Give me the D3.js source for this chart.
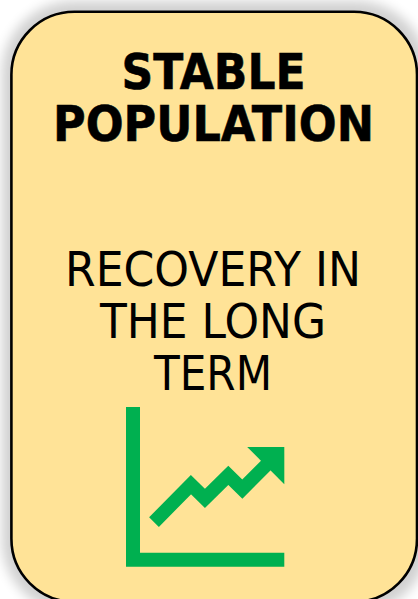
<!DOCTYPE html>
<html>
<head>
<meta charset="utf-8">
<script src="https://cdn.jsdelivr.net/npm/d3@7"></script>
<style>
  html, body { margin: 0; padding: 0; background: #fff; overflow: hidden; }
  svg { display: block; }
  text { font-family: "DejaVu Sans", sans-serif; fill: #000; text-anchor: middle; }
</style>
</head>
<body>
<div id="chart"></div>
<script>
// Card text
var TITLE_LINES = ["STABLE", "POPULATION"];
var BODY_LINES = ["RECOVERY IN", "THE LONG", "TERM"];

// Trend line in the icon, on a 0-100 scale on both axes
var TREND_X = [9.7, 35.3, 45, 61.2, 70.9, 93.6];
var TREND_Y = [21, 46.7, 37.3, 53.1, 43.7, 66.2];
var ARROW_X = [74.3, 100, 100];
var ARROW_Y = [72.5, 72.5, 47];

var WIDTH = 418, HEIGHT = 599;
var CARD_FILL = "#ffe397", ICON_GREEN = "#00b050";

var svg = d3.select("#chart").append("svg")
    .attr("width", WIDTH)
    .attr("height", HEIGHT);

var defs = svg.append("defs");
defs.append("filter")
    .attr("id", "card-shadow")
    .attr("filterUnits", "userSpaceOnUse")
    .attr("x", -60).attr("y", -60)
    .attr("width", 540).attr("height", 720)
    .append("feGaussianBlur")
    .attr("stdDeviation", 6);

// Shadow, then the card
svg.append("rect")
    .attr("x", 2).attr("y", 1)
    .attr("width", 426).attr("height", 612)
    .attr("rx", 72).attr("ry", 72)
    .attr("fill", "#000")
    .attr("opacity", 0.18)
    .attr("filter", "url(#card-shadow)");

svg.append("rect")
    .attr("x", 11.4).attr("y", 11.8)
    .attr("width", 405.6).attr("height", 590)
    .attr("rx", 63).attr("ry", 63)
    .attr("fill", CARD_FILL)
    .attr("stroke", "#000")
    .attr("stroke-width", 2.6);

// Title
var TITLE_WIDTHS = [184, 321];
svg.selectAll(".title-line")
    .data(TITLE_LINES)
    .enter()
    .append("text")
    .attr("class", "title-line")
    .attr("x", 213.5)
    .attr("y", (d, i) => 89.3 + i * 51.7)
    .attr("font-size", 49)
    .attr("font-weight", "bold")
    .attr("stroke", "#000")
    .attr("stroke-width", 0.6)
    .attr("textLength", (d, i) => TITLE_WIDTHS[i])
    .attr("lengthAdjust", "spacingAndGlyphs")
    .text(d => d);

// Body
var BODY_WIDTHS = [296, 226, 118];
svg.selectAll(".body-line")
    .data(BODY_LINES)
    .enter()
    .append("text")
    .attr("class", "body-line")
    .attr("x", 213)
    .attr("y", (d, i) => 285.7 + i * 52)
    .attr("font-size", 48)
    .attr("textLength", (d, i) => BODY_WIDTHS[i])
    .attr("lengthAdjust", "spacingAndGlyphs")
    .text(d => d);

// Icon
var xScale = d3.scaleLinear().domain([0, 100]).range([140, 284.3]);
var yScale = d3.scaleLinear().domain([0, 100]).range([552.7, 407]);
var lineGenerator = d3.line()
    .x(d => xScale(d[0]))
    .y(d => yScale(d[1]));

var AXIS_WIDTH = 14;
svg.append("path")
    .attr("d", d3.line()([
        [xScale(0) - AXIS_WIDTH / 2, yScale(100)],
        [xScale(0) - AXIS_WIDTH / 2, yScale(0) + AXIS_WIDTH / 2],
        [xScale(100), yScale(0) + AXIS_WIDTH / 2]
    ]))
    .attr("fill", "none")
    .attr("stroke", ICON_GREEN)
    .attr("stroke-width", AXIS_WIDTH)
    .attr("stroke-linejoin", "miter");

svg.append("path")
    .attr("d", lineGenerator(d3.zip(TREND_X, TREND_Y)))
    .attr("fill", "none")
    .attr("stroke", ICON_GREEN)
    .attr("stroke-width", 13.7)
    .attr("stroke-linejoin", "miter");

svg.append("path")
    .attr("d", lineGenerator(d3.zip(ARROW_X, ARROW_Y)) + "Z")
    .attr("fill", ICON_GREEN);
</script>
</body>
</html>
